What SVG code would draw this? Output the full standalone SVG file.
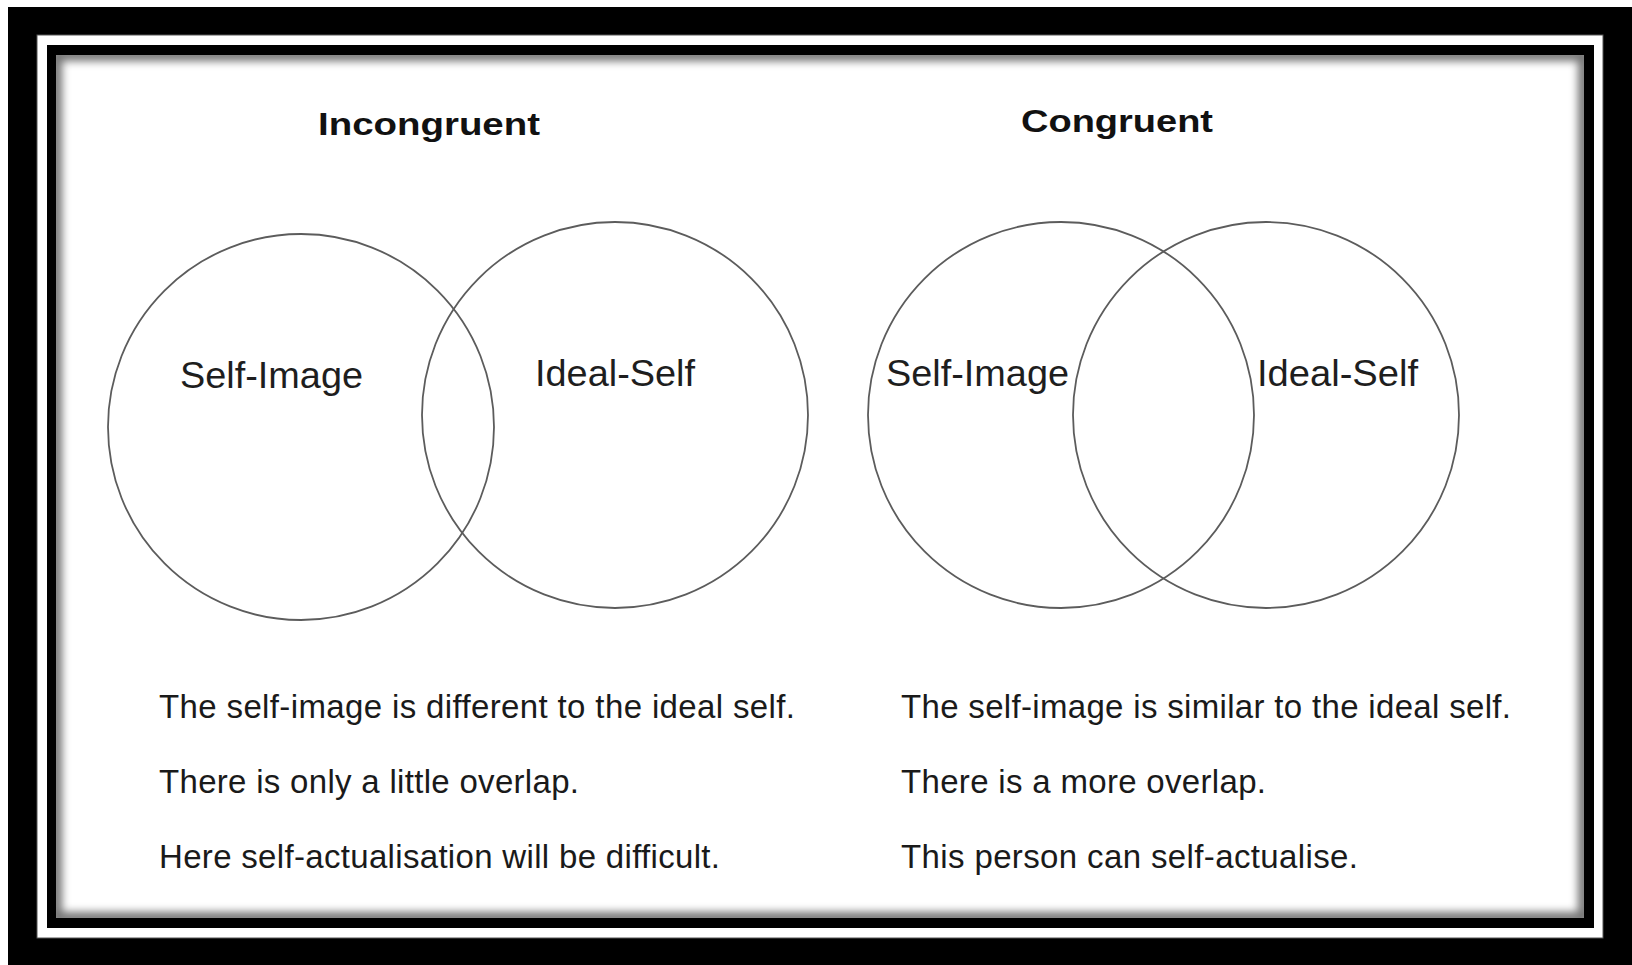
<svg xmlns="http://www.w3.org/2000/svg" width="1632" height="965" viewBox="0 0 1632 965">
  <style>
    .title { font-family: "Liberation Sans", Arial, sans-serif; font-weight: bold; font-size: 32px; fill: #111; }
    .label { font-family: "Liberation Sans", Arial, sans-serif; font-size: 37px; fill: #1e1e1e; }
    .note  { font-family: "Liberation Sans", Arial, sans-serif; font-size: 33px; fill: #1a1a1a; }
    .ring  { fill: none; stroke: #5c5c5c; stroke-width: 1.8; }
  </style>
  <defs>
    <clipPath id="panelClip">
      <rect x="56" y="55" width="1528" height="863"/>
    </clipPath>
    <filter id="soft" x="-5%" y="-5%" width="110%" height="110%">
      <feGaussianBlur stdDeviation="4"/>
    </filter>
  </defs>

  <!-- frame: outer black band, white strip, inner black band -->
  <rect x="0" y="0" width="1632" height="965" fill="#fff"/>
  <rect x="8" y="7" width="1624" height="958" fill="#000"/>
  <rect x="37" y="35" width="1566" height="903" fill="#fff" stroke="#555" stroke-width="1"/>
  <rect x="47" y="45" width="1547" height="883" fill="#000"/>

  <!-- white panel with inset shadow -->
  <rect x="56" y="55" width="1528" height="863" fill="#fff"/>
  <g clip-path="url(#panelClip)">
    <rect x="56" y="55" width="1528" height="863" fill="none" stroke="#000" stroke-width="12" opacity="0.55" filter="url(#soft)"/>
  </g>

  <!-- headings -->
  <g id="title-incongruent">
    <text class="title" x="318" y="135" textLength="222" lengthAdjust="spacingAndGlyphs">Incongruent</text>
  </g>
  <g id="title-congruent">
    <text class="title" x="1021" y="132" textLength="192" lengthAdjust="spacingAndGlyphs">Congruent</text>
  </g>

  <!-- incongruent pair -->
  <g id="left-self-image">
    <circle class="ring" cx="301" cy="427" r="193"/>
    <text class="label" x="180" y="388" textLength="183" lengthAdjust="spacingAndGlyphs">Self-Image</text>
  </g>
  <g id="left-ideal-self">
    <circle class="ring" cx="615" cy="415" r="193"/>
    <text class="label" x="535" y="386" textLength="160" lengthAdjust="spacingAndGlyphs">Ideal-Self</text>
  </g>

  <!-- congruent pair -->
  <g id="right-self-image">
    <circle class="ring" cx="1061" cy="415" r="193"/>
    <text class="label" x="886" y="386" textLength="183" lengthAdjust="spacingAndGlyphs">Self-Image</text>
  </g>
  <g id="right-ideal-self">
    <circle class="ring" cx="1266" cy="415" r="193"/>
    <text class="label" x="1257" y="386" textLength="161" lengthAdjust="spacingAndGlyphs">Ideal-Self</text>
  </g>

  <!-- descriptions -->
  <g id="left-notes">
    <text class="note" x="159" y="718" textLength="636">The self-image is different to the ideal self.</text>
    <text class="note" x="159" y="793" textLength="420">There is only a little overlap.</text>
    <text class="note" x="159" y="868" textLength="561">Here self-actualisation will be difficult.</text>
  </g>
  <g id="right-notes">
    <text class="note" x="901" y="718" textLength="610">The self-image is similar to the ideal self.</text>
    <text class="note" x="901" y="793" textLength="365">There is a more overlap.</text>
    <text class="note" x="901" y="868" textLength="457">This person can self-actualise.</text>
  </g>

  <g id="connectors"/>
</svg>
